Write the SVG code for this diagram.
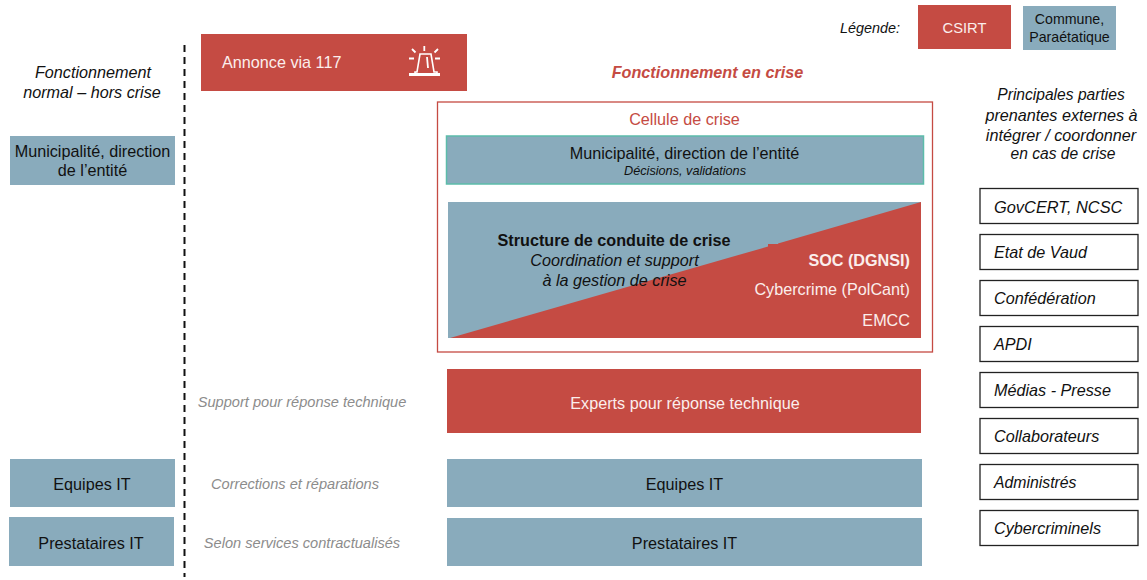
<svg xmlns="http://www.w3.org/2000/svg" width="1147" height="580" viewBox="0 0 1147 580">
<style>
text{font-family:"Liberation Sans",Arial,sans-serif;font-size:16.2px;fill:#111}
.m{text-anchor:middle}
.e{text-anchor:end}
.i{font-style:italic}
.w{fill:#fbeeec}
.b{fill:#89abbc}
.r{fill:#c54b43}
.g{fill:#8c8c8c;font-style:italic;font-size:14.6px}
.x{fill:#fff;stroke:#222;stroke-width:1.3}
</style>
<rect width="1147" height="580" fill="#fff"/>
<g id="connectors"><line x1="184.5" y1="45" x2="184.5" y2="577" stroke="#111" stroke-width="2" stroke-dasharray="7 5"/></g>
<g id="legend">
<text x="900" y="33" class="e i" style="font-size:14.4px">Légende:</text>
<rect class="r" x="918" y="5" width="93" height="44"/><text x="964.500" y="33" class="m w" style="font-size:14.7px">CSIRT</text>
<rect class="b" x="1023" y="6" width="93" height="44"/><text x="1069.500" y="24" class="m" style="font-size:14.2px">Commune,</text><text x="1069.500" y="42" class="m" style="font-size:14.2px">Paraétatique</text>
</g>
<g id="titles">
<text x="93" y="78" class="m i">Fonctionnement</text><text x="92" y="98" class="m i">normal – hors crise</text>
<text x="707.500" y="78" class="m i" style="font-weight:bold;fill:#c54b43">Fonctionnement en crise</text>
<text x="1061" y="100" class="m i" style="font-size:15.6px">Principales parties</text><text x="1061.500" y="121" class="m i">prenantes externes à</text><text x="1061" y="141" class="m i">intégrer / coordonner</text><text x="1063" y="159" class="m i" style="font-size:15.6px">en cas de crise</text>
</g>
<g id="annonce">
<rect class="r" x="201" y="34" width="266" height="57"/>
<text x="222" y="68" class="w">Annonce via 117</text>
<g fill="none" stroke="#fff" stroke-width="1.8">
<path d="M415 75V72H417L420 54H431L434 72H437V75Z" stroke-width="1.6"/>
<path d="M427 57L428 68M424.300 46V51M412 49L415.500 52.500M438 49L434.500 52.500M409 58.500H414M435 58.500H440"/>
</g>
<rect x="409" y="73" width="31" height="3" fill="#fff"/>
</g>
<g id="cellule">
<rect x="437.500" y="102" width="495" height="250" fill="#fff" stroke="#c54b43" stroke-width="1.300"/>
<text x="684.500" y="125" class="m" style="fill:#c54b43">Cellule de crise</text>
</g>
<g id="municipalite-crise">
<rect class="b" x="446.500" y="136" width="477" height="48" stroke="#5cbcaa" stroke-width="1.500"/>
<text x="684.500" y="159" class="m">Municipalité, direction de l’entité</text>
<text x="685" y="175" class="m i" style="font-size:12.7px">Décisions, validations</text>
</g>
<g id="structure">
<rect class="b" x="448" y="202" width="473" height="136"/>
<polygon class="r" points="450,338 768,246.500 768,244 778,244 778,243.500 921,202 921,338"/>
<text x="614" y="246" class="m" style="font-weight:bold">Structure de conduite de crise</text>
<text x="614.500" y="266" class="m i">Coordination et support</text>
<text x="614.500" y="286" class="m i">à la gestion de crise</text>
<text x="910" y="266" class="e w" style="font-weight:bold">SOC (DGNSI)</text>
<text x="910" y="295" class="e w">Cybercrime (PolCant)</text>
<text x="910" y="326" class="e w">EMCC</text>
</g>
<g id="experts">
<rect class="r" x="447" y="369" width="474" height="64"/>
<text x="685" y="409" class="m w">Experts pour réponse technique</text>
<text x="302" y="407" class="m g">Support pour réponse technique</text>
</g>
<g id="equipes-crise"><rect class="b" x="447" y="459" width="475" height="48"/><text x="684.500" y="490" class="m">Equipes IT</text></g>
<g id="prestataires-crise"><rect class="b" x="447" y="518" width="475" height="48"/><text x="684.500" y="549" class="m">Prestataires IT</text></g>
<g id="municipalite-normal"><rect class="b" x="10" y="136" width="165" height="49"/><text x="92.500" y="157" class="m">Municipalité, direction</text><text x="92.500" y="176" class="m">de l’entité</text></g>
<g id="equipes-normal"><rect class="b" x="10" y="459" width="165" height="48"/><text x="92" y="490" class="m">Equipes IT</text><text x="295" y="489" class="m g">Corrections et réparations</text></g>
<g id="prestataires-normal"><rect class="b" x="9" y="517" width="165" height="49"/><text x="91" y="549" class="m">Prestataires IT</text><text x="302" y="548" class="m g">Selon services contractualisés</text></g>
<g id="ext-govcert"><rect class="x" x="980" y="188.500" width="158" height="35"/><text x="994" y="213" class="i" style="font-size:16.4px">GovCERT, NCSC</text></g>
<g id="ext-vaud"><rect class="x" x="980" y="234.500" width="158" height="35"/><text x="994" y="258" class="i">Etat de Vaud</text></g>
<g id="ext-confederation"><rect class="x" x="980" y="280.500" width="158" height="35"/><text x="994" y="304" class="i">Confédération</text></g>
<g id="ext-apdi"><rect class="x" x="980" y="326.500" width="158" height="35"/><text x="994" y="350" class="i">APDI</text></g>
<g id="ext-medias"><rect class="x" x="980" y="372.500" width="158" height="35"/><text x="994" y="396" class="i">Médias - Presse</text></g>
<g id="ext-collaborateurs"><rect class="x" x="980" y="418.500" width="158" height="35"/><text x="994" y="442" class="i">Collaborateurs</text></g>
<g id="ext-administres"><rect class="x" x="980" y="464.500" width="158" height="35"/><text x="994" y="488" class="i" style="font-size:15.8px">Administrés</text></g>
<g id="ext-cybercriminels"><rect class="x" x="980" y="510.500" width="158" height="35"/><text x="994" y="534" class="i">Cybercriminels</text></g>
</svg>
